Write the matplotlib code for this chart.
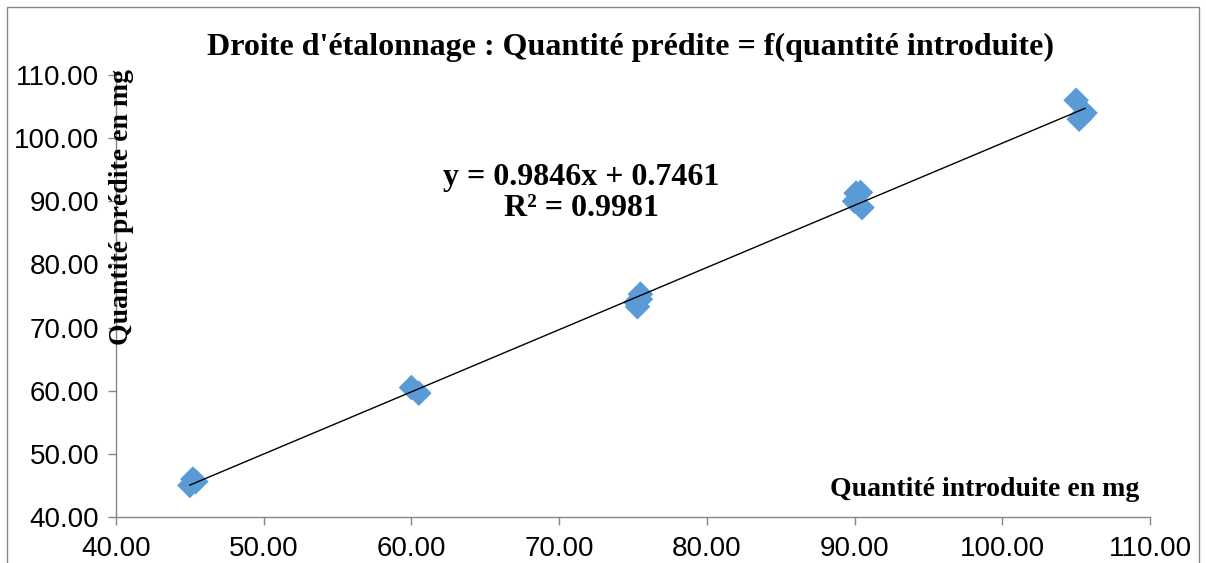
#!/usr/bin/env python3

import numpy as np
import matplotlib
matplotlib.use("Agg")
import matplotlib.pyplot as plt
from matplotlib.patches import Rectangle

#------------ Données ---------
qte_introduite = [45.0, 45.2, 45.4,
                  60.0, 60.5,
                  75.5, 75.2, 75.3, 75.5,
                  90.1, 90.4, 90.0, 90.5,
                  105.0, 105.6, 105.2, 105.4]
qte_predite = [45.0, 46.0, 45.6,
               60.5, 59.6,
               75.3, 74.0, 73.3, 74.5,
               91.3, 91.4, 90.0, 89.0,
               106.0, 104.0, 103.0, 103.5]

pente = 0.9846
ordonnee = 0.7461
r2 = 0.9981

ticks = [40, 50, 60, 70, 80, 90, 100, 110]

#------------ Figure ---------
fig = plt.figure(figsize=(12.06, 5.63), dpi=100)
ax = fig.add_axes([116/1206, 1 - 517/563, (1150 - 116)/1206, (517 - 75)/563])

ax.scatter(qte_introduite, qte_predite, marker="D", s=170, color="#5B9BD5",
           edgecolors="none", zorder=2)

# Droite de régression (équation affichée)
xl = np.array([min(qte_introduite), max(qte_introduite)])
ax.plot(xl, pente*xl + ordonnee, color="black", lw=1.0, zorder=3)

ax.set_xlim(40, 110)
ax.set_ylim(40, 110)
ax.set_xticks(ticks)
ax.set_yticks(ticks)
ax.set_xticklabels([f"{t:.2f}" for t in ticks], family="Liberation Sans", fontsize=20)
ax.set_yticklabels([f"{t:.2f}" for t in ticks], family="Liberation Sans", fontsize=20)

for s in ["top", "right"]:
    ax.spines[s].set_visible(False)
for s in ["left", "bottom"]:
    ax.spines[s].set_color("#868686")
    ax.spines[s].set_linewidth(1.0)
ax.tick_params(direction="out", length=6, color="#868686", width=1.0)
ax.tick_params(axis="x", pad=8)
ax.tick_params(axis="y", pad=6)

serif = dict(family="Liberation Serif", fontweight="bold", color="black")

fig.text(0.523, 1 - 47/563, "Droite d'étalonnage : Quantité prédite = f(quantité introduite)",
         ha="center", va="center", fontsize=23, **serif)
ax.text(0.4497, 0.733, f"y = {pente:.4f}x + {ordonnee:.4f}\nR² = {r2:.4f}",
        transform=ax.transAxes, ha="center", va="center", fontsize=23,
        linespacing=1.05, **serif)
ax.text(0.99, 1 - (490 - 75)/(517 - 75), "Quantité introduite en mg",
        transform=ax.transAxes, ha="right", va="center", fontsize=20, **serif)
ax.text(0.005, 1 - (207 - 75)/(517 - 75), "Quantité prédite en mg",
        transform=ax.transAxes, ha="center", va="center", rotation=90,
        fontsize=20, **serif)

# Cadre de la zone du graphique
fig.patches.append(Rectangle((7/1206, -0.05), 1192/1206, 1 - 7/563 + 0.05,
                             transform=fig.transFigure, fill=False,
                             edgecolor="#868686", lw=1.0))

fig.savefig("out.png", dpi=100)
